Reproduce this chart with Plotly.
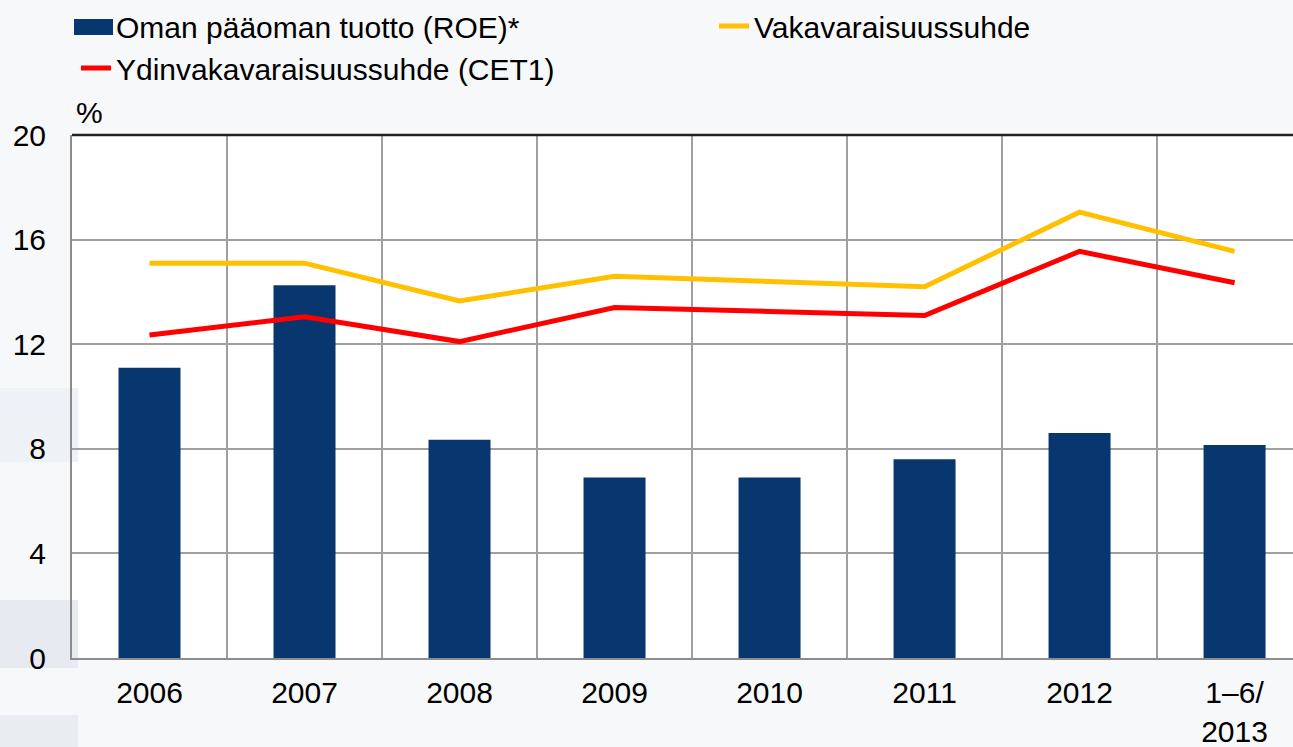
import plotly.graph_objects as go

categories = ["2006", "2007", "2008", "2009", "2010", "2011", "2012", "1–6/<br>2013"]
roe = [11.1, 14.25, 8.35, 6.9, 6.9, 7.6, 8.6, 8.15]
vakavaraisuus = [15.1, 15.1, 13.65, 14.6, 14.4, 14.2, 17.05, 15.55]
cet1 = [12.35, 13.05, 12.1, 13.4, 13.25, 13.1, 15.55, 14.35]
y_ticks = [0, 4, 8, 12, 16, 20]

FONT = "Liberation Sans, Arial, sans-serif"
W, H = 1293, 747
L, T, B = 72, 135, 89
PW, PH = W - L, H - T - B
NAVY = "#08366F"

fig = go.Figure()
fig.add_trace(go.Bar(x=categories, y=roe, name="Oman pääoman tuotto (ROE)*",
                     marker=dict(color=NAVY, line=dict(width=0)), width=0.4,
                     legend="legend"))
fig.add_trace(go.Scatter(x=categories, y=vakavaraisuus, name="Vakavaraisuussuhde", mode="lines",
                         line=dict(color="#FFC000", width=5), legend="legend2"))
fig.add_trace(go.Scatter(x=categories, y=cet1, name="Ydinvakavaraisuussuhde (CET1)", mode="lines",
                         line=dict(color="#FF0000", width=5), legend="legend"))


def px_x(x):
    return (x - L) / PW


def px_y(y):
    return (H - B - y) / PH


shapes = []
# faint decorative background blocks on the left
for y0, y1, c in [(388, 462, "#eef1f5"), (600, 668, "#e7ebf1"), (715, 747, "#e9edf2")]:
    shapes.append(dict(type="rect", xref="paper", yref="paper", layer="below",
                       x0=px_x(0), x1=px_x(78), y0=px_y(y1), y1=px_y(y0),
                       fillcolor=c, line=dict(width=0)))
# dark top frame line
shapes.append(dict(type="line", xref="paper", yref="paper", x0=0, x1=1, y0=1, y1=1,
                   line=dict(color="#222222", width=2.5)))
# widen the ROE legend swatch into a rectangle like the original
shapes.append(dict(type="rect", xref="paper", yref="paper", layer="above",
                   x0=px_x(74), x1=px_x(113), y0=px_y(35), y1=px_y(19),
                   fillcolor=NAVY, line=dict(width=0)))

leg_common = dict(orientation="v", xref="paper", yref="paper", xanchor="left", yanchor="top",
                  font=dict(family=FONT, size=30, color="#000000"),
                  bgcolor="rgba(0,0,0,0)", itemwidth=30, traceorder="normal",
                  borderwidth=0)

fig.update_layout(
    width=W, height=H,
    margin=dict(l=L, r=0, t=T, b=B, autoexpand=False),
    paper_bgcolor="#f7f8fa", plot_bgcolor="#ffffff",
    font=dict(family=FONT, size=30, color="#000000"),
    showlegend=True,
    legend=dict(x=px_x(76), y=1 + T/PH, **leg_common),
    legend2=dict(x=px_x(714), y=1 + T/PH, **leg_common),
    xaxis=dict(type="category", range=[-0.5, 7.377], tickson="boundaries",
               showgrid=True, gridcolor="#a0a0a0", gridwidth=1.5,
               showline=True, linecolor="#8c8c8c", linewidth=2,
               ticks="", ticklabelstandoff=7,
               tickfont=dict(family=FONT, size=30, color="#000000"), fixedrange=True),
    yaxis=dict(range=[0, 20], tickvals=y_ticks, showgrid=True, gridcolor="#a0a0a0", gridwidth=1.5,
               showline=True, linecolor="#8c8c8c", linewidth=2, zeroline=False,
               ticks="", ticklabelstandoff=18,
               tickfont=dict(family=FONT, size=30, color="#000000")),
    shapes=shapes,
    annotations=[dict(text="%", xref="paper", yref="paper", x=2/PW, y=1.0, xanchor="left",
                      yanchor="bottom", yshift=4, showarrow=False,
                      font=dict(family=FONT, size=30, color="#000000"))],
)

fig.write_html("out.html", config={"displayModeBar": False},
               post_script="document.body.style.margin='0';document.body.style.padding='0';")
